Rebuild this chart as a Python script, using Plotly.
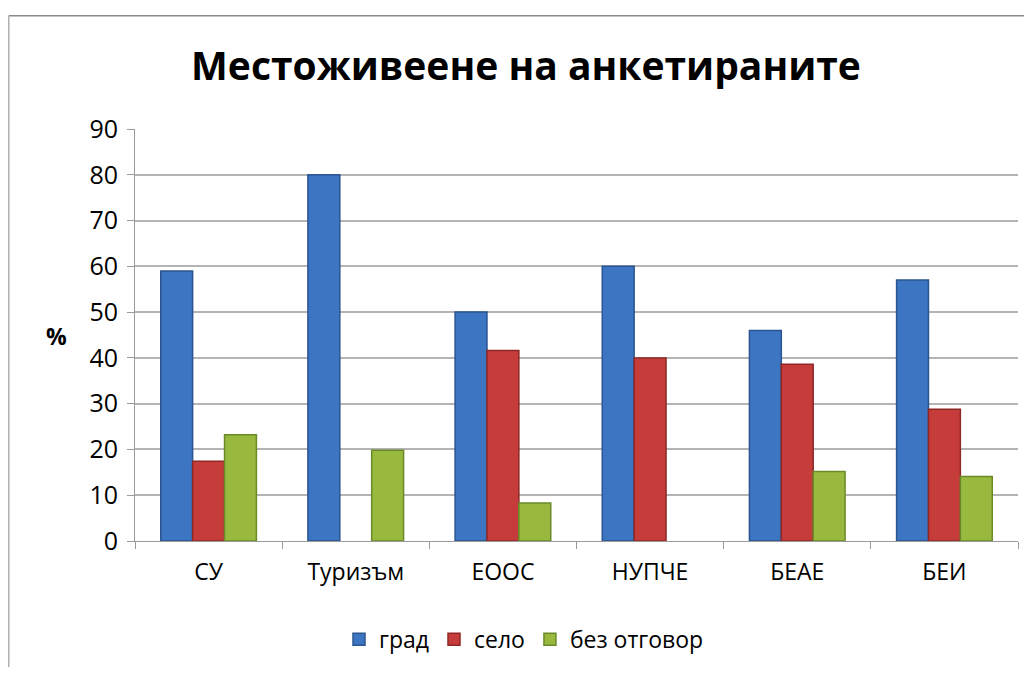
import plotly.graph_objects as go

categories = ["СУ", "Туризъм", "ЕООС", "НУПЧЕ", "БЕАЕ", "БЕИ"]
grad = [59, 80, 50, 60, 46, 57]
selo = [17.4, None, 41.6, 40, 38.6, 28.8]
bez_otgovor = [23.2, 19.8, 8.3, None, 15.2, 14.1]
series_names = ["град", "село", "без отговор"]
y_ticks = [0, 10, 20, 30, 40, 50, 60, 70, 80, 90]

colors = ["#3c75c2", "#c63c3b", "#98b93d"]
edges = ["#2a5590", "#8e2826", "#6a8a2a"]

fig = go.Figure()
for name, vals, c, e in zip(series_names, [grad, selo, bez_otgovor], colors, edges):
    fig.add_trace(go.Bar(x=categories, y=vals, name=name,
                         marker=dict(color=c, line=dict(color=e, width=1.5))))

OFF = 8  # page body margin
W, H = 1032 - 2 * OFF, 675 - 2 * OFF
L, T = 135 - OFF, 129 - OFF
R = W - (1018 - OFF)
B = H - (544 - OFF)
pw, ph = W - L - R, H - T - B

def px(x):
    return (x - OFF - L) / pw

def py(y):
    return (H - B - (y - OFF)) / ph

fig.update_layout(
    width=W, height=H,
    margin=dict(l=L, r=R, t=T, b=B),
    paper_bgcolor="white", plot_bgcolor="white",
    barmode="group", bargap=0.35, bargroupgap=0,
    font=dict(family="Open Sans, Noto Sans, sans-serif", color="#000000"),
    title=dict(text="<b>Местоживеене на анкетираните</b>", x=px(526), xref="paper",
               xanchor="center", y=1 - (66 - OFF) / H, yanchor="middle",
               font=dict(size=39, family="Open Sans, Noto Sans, sans-serif", color="#000")),
    showlegend=True,
    legend=dict(orientation="h", x=px(524), xanchor="center", y=py(643), yanchor="middle",
                font=dict(size=23), traceorder="normal", bgcolor="rgba(0,0,0,0)"),
    xaxis=dict(showgrid=False, showline=True, linecolor="#9a9a9a", linewidth=1,
               ticks="outside", tickcolor="#9a9a9a", ticklen=7, tickson="boundaries",
               tickfont=dict(size=23), ticklabelstandoff=10, mirror=False),
    yaxis=dict(range=[0, 90], tickvals=y_ticks, showgrid=True, gridcolor="#b4b4b4", gridwidth=1.5,
               showline=True, linecolor="#9a9a9a", linewidth=1, ticks="outside",
               tickcolor="#9a9a9a", ticklen=7, tickfont=dict(size=25), ticklabelstandoff=4,
               zeroline=False),
    shapes=[
        dict(type="line", xref="paper", yref="paper", x0=px(8.75), x1=px(1040), y0=py(15), y1=py(15),
             line=dict(color="#8a8a8a", width=1.5)),
        dict(type="line", xref="paper", yref="paper", x0=px(8.75), x1=px(8.75), y0=py(15), y1=py(700),
             line=dict(color="#b0b0b0", width=1.5)),
    ],
    annotations=[
        dict(text="<b>%</b>", xref="paper", yref="paper", x=px(56), y=py(338),
             showarrow=False, font=dict(size=23), xanchor="center", yanchor="middle"),
    ],
)

fig.write_html("out.html")
